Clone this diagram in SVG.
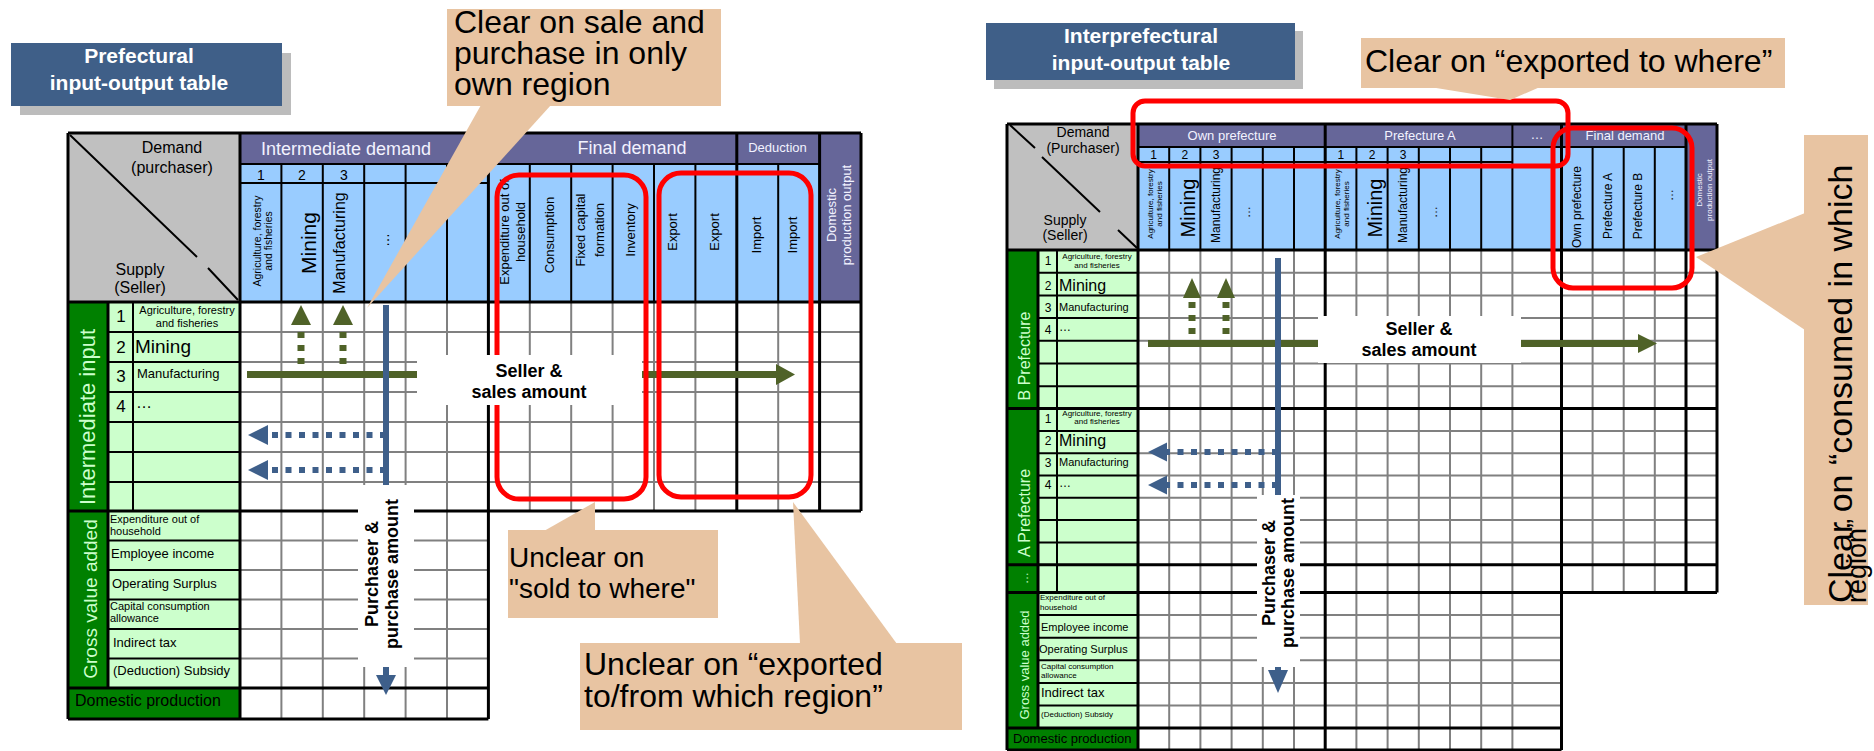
<svg xmlns="http://www.w3.org/2000/svg" width="1874" height="751" viewBox="0 0 1874 751">
<defs>
<style>
text{font-family:"Liberation Sans",Arial,sans-serif;fill:#000}
.gray{fill:#c0c0c0}.pur{fill:#666699}.blu{fill:#99ccff}.dg{fill:#008000}.lg{fill:#ccffcc}.wh{fill:#fff}
.gl{stroke:#808080;stroke-width:2;fill:none}
.k2{stroke:#000;stroke-width:2;fill:none}
.k3{stroke:#000;stroke-width:3;fill:none}
.pt{fill:#f2f2ff}
.bt{fill:#ccffcc}
.m{text-anchor:middle}
.b{font-weight:bold}
.callout{fill:#e8c4a2}
.title{fill:#3f5f88}
.shadow{fill:#bcbcbc}
.red{fill:none;stroke:#ff0000;stroke-width:5}
.garr{stroke:#4f6228;stroke-width:7;fill:none}
.gdash{stroke:#4f6228;stroke-width:7;fill:none;stroke-dasharray:6 7}
.gh{fill:#4f6228}
.barr{stroke:#3e5f8a;stroke-width:6;fill:none}
.bdash{stroke:#3e5f8a;stroke-width:6;fill:none;stroke-dasharray:6 7.5}
.bh{fill:#3e5f8a}
</style>
</defs>
<rect width="1874" height="751" fill="#fff"/>

<!-- ===== Left: Prefectural table ===== -->
<g id="title-prefectural">
<rect class="shadow" x="20" y="53" width="271" height="62"/>
<rect class="title" x="11" y="43" width="271" height="63"/>
<text class="m b" x="139" y="63" font-size="21" style="fill:#fff">Prefectural</text>
<text class="m b" x="139" y="90" font-size="21" style="fill:#fff">input-output table</text>
</g>

<g id="table-prefectural">
<rect class="gray" x="68" y="133" width="172" height="169"/>
<rect class="pur" x="240" y="133" width="621" height="31"/>
<rect class="pur" x="819.6" y="133" width="41.4" height="169"/>
<rect class="blu" x="240" y="164" width="579.6" height="138"/>
<rect class="dg" x="68" y="302" width="40" height="386"/>
<rect class="dg" x="68" y="688" width="172" height="31"/>
<rect class="lg" x="108" y="302" width="132" height="386"/>
<rect class="wh" x="240" y="302" width="621" height="209"/>
<rect class="wh" x="240" y="511" width="248.4" height="208"/>
<path class="gl" d="M281.4 302V719M322.8 302V719M364.2 302V719M405.6 302V719M447 302V719M529.8 302V511M571.2 302V511M612.6 302V511M654 302V511M695.4 302V511M778.2 302V511M240 332H861M240 362H861M240 392H861M240 422H861M240 452H861M240 482H861M240 540.5H488.4M240 570H488.4M240 599.5H488.4M240 629H488.4M240 658.5H488.4"/>
<path class="k2" d="M108 332H240M108 362H240M108 392H240M108 422H240M108 452H240M108 482H240M108 540.5H240M108 570H240M108 599.5H240M108 629H240M108 658.5H240M133 302V511M240 164H819.6M240 183H488.4M281.4 164V302M322.8 164V302M364.2 164V302M405.6 164V302M447 164V302M529.8 164V302M571.2 164V302M612.6 164V302M654 164V302M695.4 164V302M778.2 164V302M70 135L197 257M208 268L238 300"/>
<path class="k3" d="M68 133H861M68 302H861M68 511H861M68 688H488.4M68 719H488.4M68 133V719M240 133V719M488.4 133V719M736.8 133V511M819.6 133V511M861 133V511M108 302V688"/>
<text class="m" x="172" y="153" font-size="16">Demand</text>
<text class="m" x="172" y="173" font-size="16">(purchaser)</text>
<text class="m" x="140" y="275" font-size="16">Supply</text>
<text class="m" x="140" y="293" font-size="16">(Seller)</text>
<text class="m pt" x="346" y="155" font-size="18">Intermediate demand</text>
<text class="m pt" x="632" y="154" font-size="18">Final demand</text>
<text class="m pt" x="777.5" y="152" font-size="13">Deduction</text>
<text class="m" x="261" y="180" font-size="14">1</text>
<text class="m" x="302" y="180" font-size="14">2</text>
<text class="m" x="344" y="180" font-size="14">3</text>
<text class="m" font-size="10.5" transform="translate(261,241) rotate(-90)">Agriculture, forestry</text>
<text class="m" font-size="10.5" transform="translate(272,241) rotate(-90)">and fisheries</text>
<text class="m" font-size="21" transform="translate(316,243) rotate(-90)">Mining</text>
<text class="m" font-size="16" transform="translate(345,243) rotate(-90)">Manufacturing</text>
<text class="m" font-size="14" transform="translate(389,240) rotate(-90)">…</text>
<text class="m" font-size="13" transform="translate(509,232) rotate(-90)">Expenditure out of</text>
<text class="m" font-size="13" transform="translate(525,232) rotate(-90)">household</text>
<text class="m" font-size="13" transform="translate(554,235) rotate(-90)">Consumption</text>
<text class="m" font-size="13" transform="translate(585,230) rotate(-90)">Fixed capital</text>
<text class="m" font-size="13" transform="translate(604,230) rotate(-90)">formation</text>
<text class="m" font-size="13" transform="translate(635,230) rotate(-90)">Inventory</text>
<text class="m" font-size="13" transform="translate(677,232) rotate(-90)">Export</text>
<text class="m" font-size="13" transform="translate(719,232) rotate(-90)">Export</text>
<text class="m" font-size="13" transform="translate(761,235) rotate(-90)">Import</text>
<text class="m" font-size="13" transform="translate(797,235) rotate(-90)">Import</text>
<text class="m pt" font-size="13" transform="translate(836,215) rotate(-90)">Domestic</text>
<text class="m pt" font-size="13" transform="translate(851,215) rotate(-90)">production output</text>
<text class="m bt" font-size="22" transform="translate(95,417) rotate(-90)">Intermediate input</text>
<text class="m bt" font-size="19" transform="translate(97,599) rotate(-90)">Gross value added</text>
<text class="m" x="121" y="322" font-size="17">1</text>
<text class="m" x="121" y="353" font-size="17">2</text>
<text class="m" x="121" y="382" font-size="17">3</text>
<text class="m" x="121" y="412" font-size="17">4</text>
<text class="m" x="187" y="314" font-size="11">Agriculture, forestry</text>
<text class="m" x="187" y="327" font-size="11">and fisheries</text>
<text x="135" y="353" font-size="19">Mining</text>
<text x="137" y="378" font-size="13">Manufacturing</text>
<text x="136" y="408" font-size="16">…</text>
<text x="110" y="523" font-size="11">Expenditure  out of</text>
<text x="110" y="535" font-size="11">household</text>
<text x="111" y="558" font-size="13">Employee income</text>
<text x="112" y="588" font-size="13">Operating Surplus</text>
<text x="110" y="610" font-size="11">Capital consumption</text>
<text x="110" y="622" font-size="11">allowance</text>
<text x="113" y="647" font-size="13">Indirect tax</text>
<text x="113" y="675" font-size="13">(Deduction) Subsidy</text>
<text x="75" y="706" font-size="16">Domestic production</text>
</g>

<g id="connectors-prefectural">
<path class="gdash" d="M301 364V324M343 364V324"/>
<path class="gh" d="M291 325L311 325L301 305ZM333 325L353 325L343 305Z"/>
<path class="garr" d="M247 374.5H417M642 374.5H777"/>
<path class="gh" d="M776 364L776 385L795 374.5Z"/>
<path class="bdash" d="M386 435H268M386 470H268"/>
<path class="bh" d="M268 425L268 445L248 435ZM268 460L268 480L248 470Z"/>
<path class="barr" d="M386 305V487M386 665V677"/>
<path class="bh" d="M376 675L396 675L386 695Z"/>
</g>

<g id="highlight-prefectural">
<rect class="red" x="497" y="175" width="149" height="324" rx="22"/>
<rect class="red" x="659" y="173" width="152" height="324" rx="22"/>
</g>

<g id="label-seller-1">
<rect class="wh" x="417" y="355" width="225" height="50"/>
<text class="m b" x="529" y="377" font-size="18">Seller &amp;</text>
<text class="m b" x="529" y="398" font-size="18">sales amount</text>
</g>
<g id="label-purchaser-1">
<rect class="wh" x="358" y="485" width="56" height="182"/>
<text class="m b" font-size="18" transform="translate(378,574) rotate(-90)">Purchaser &amp;</text>
<text class="m b" font-size="18" transform="translate(398,574) rotate(-90)">purchase amount</text>
</g>

<g id="callout-clear-own">
<path class="callout" d="M481 105L551 105L367 308Z"/>
<rect class="callout" x="447" y="9" width="274" height="97"/>
<text x="454" y="33" font-size="32">Clear on sale and</text>
<text x="454" y="64" font-size="32">purchase in only</text>
<text x="454" y="95" font-size="32">own region</text>
</g>
<g id="callout-unclear-sold">
<path class="callout" d="M544 531L595 531L595 502Z"/>
<rect class="callout" x="508" y="530" width="210" height="88"/>
<text x="509" y="567" font-size="28">Unclear on</text>
<text x="509" y="598" font-size="28">"sold to where"</text>
</g>
<g id="callout-unclear-exported">
<path class="callout" d="M800 644L897 644L793 502Z"/>
<rect class="callout" x="580" y="643" width="382" height="87"/>
<text x="584" y="675" font-size="32">Unclear on “exported</text>
<text x="584" y="707" font-size="32">to/from which region”</text>
</g>

<!-- ===== Right: Interprefectural table ===== -->
<g id="title-interprefectural">
<rect class="shadow" x="994" y="31" width="309" height="58"/>
<rect class="title" x="986" y="23" width="309" height="57"/>
<text class="m b" x="1141" y="43" font-size="21" style="fill:#fff">Interprefectural</text>
<text class="m b" x="1141" y="70" font-size="21" style="fill:#fff">input-output table</text>
</g>

<g id="table-interprefectural">
<rect class="gray" x="1007" y="124" width="131" height="126"/>
<rect class="pur" x="1138" y="124" width="579" height="23"/>
<rect class="pur" x="1686" y="124" width="31" height="126"/>
<rect class="blu" x="1138" y="147" width="548" height="103"/>
<rect class="dg" x="1007" y="250" width="31" height="478"/>
<rect class="dg" x="1007" y="728" width="131" height="22"/>
<rect class="lg" x="1038" y="250" width="100" height="478"/>
<rect class="wh" x="1138" y="250" width="579" height="342.5"/>
<rect class="wh" x="1138" y="592.5" width="423.5" height="157.5"/>
<path class="gl" d="M1169.2 250V750M1200.4 250V750M1231.6 250V750M1262.8 250V750M1294 250V750M1356.4 250V750M1387.6 250V750M1418.8 250V750M1450 250V750M1481.2 250V750M1512.4 250V750M1592.6 250V592.5M1623.7 250V592.5M1654.8 250V592.5M1138 272.7H1717M1138 295.4H1717M1138 318.1H1717M1138 340.8H1717M1138 363.5H1717M1138 386.2H1717M1138 430.9H1717M1138 453.2H1717M1138 475.5H1717M1138 497.8H1717M1138 520.1H1717M1138 542.4H1717M1138 615.1H1561.5M1138 637.7H1561.5M1138 660.3H1561.5M1138 682.9H1561.5M1138 705.5H1561.5"/>
<path class="k2" d="M1038 272.7H1138M1038 295.4H1138M1038 318.1H1138M1038 340.8H1138M1038 363.5H1138M1038 386.2H1138M1038 430.9H1138M1038 453.2H1138M1038 475.5H1138M1038 497.8H1138M1038 520.1H1138M1038 542.4H1138M1038 615.1H1138M1038 637.7H1138M1038 660.3H1138M1038 682.9H1138M1038 705.5H1138M1057 250V592.5M1138 147H1686M1138 162H1512.4M1169.2 147V250M1200.4 147V250M1231.6 147V250M1262.8 147V250M1294 147V250M1356.4 147V250M1387.6 147V250M1418.8 147V250M1450 147V250M1481.2 147V250M1512.4 124V250M1592.6 147V250M1623.7 147V250M1654.8 147V250M1010 125L1035 148M1042 157L1100 212M1118 230L1137 248"/>
<path class="k3" d="M1007 124H1717M1007 250H1717M1007 408.6H1717M1007 564.7H1717M1007 592.5H1717M1007 728.1H1561.5M1007 750H1561.5M1007 124V750M1138 124V750M1325.2 124V750M1561.5 124V750M1686 124V592.5M1717 124V592.5M1038 250V728.1"/>
<text class="m" x="1083" y="137" font-size="14">Demand</text>
<text class="m" x="1083" y="153" font-size="14">(Purchaser)</text>
<text class="m" x="1065" y="225" font-size="14">Supply</text>
<text class="m" x="1065" y="240" font-size="14">(Seller)</text>
<text class="m pt" x="1232" y="140" font-size="13">Own prefecture</text>
<text class="m pt" x="1420" y="140" font-size="13">Prefecture A</text>
<text class="m pt" x="1537" y="139" font-size="13">…</text>
<text class="m pt" x="1625" y="140" font-size="13">Final demand</text>
<text class="m" x="1153.6" y="159" font-size="12">1</text>
<text class="m" x="1184.8" y="159" font-size="12">2</text>
<text class="m" x="1216" y="159" font-size="12">3</text>
<text class="m" x="1340.8" y="159" font-size="12">1</text>
<text class="m" x="1372" y="159" font-size="12">2</text>
<text class="m" x="1403.2" y="159" font-size="12">3</text>
<text class="m" font-size="8" transform="translate(1153,204) rotate(-90)">Agriculture, forestry</text>
<text class="m" font-size="8" transform="translate(1162,204) rotate(-90)">and fisheries</text>
<text class="m" font-size="20" transform="translate(1195,208) rotate(-90)">Mining</text>
<text class="m" font-size="12" transform="translate(1220,205) rotate(-90)">Manufacturing</text>
<text class="m" font-size="12" transform="translate(1250,212) rotate(-90)">…</text>
<text class="m" font-size="8" transform="translate(1340,204) rotate(-90)">Agriculture, forestry</text>
<text class="m" font-size="8" transform="translate(1349,204) rotate(-90)">and fisheries</text>
<text class="m" font-size="20" transform="translate(1382,208) rotate(-90)">Mining</text>
<text class="m" font-size="12" transform="translate(1407,205) rotate(-90)">Manufacturing</text>
<text class="m" font-size="12" transform="translate(1437,212) rotate(-90)">…</text>
<text class="m" font-size="12" transform="translate(1581,207) rotate(-90)">Own prefecture</text>
<text class="m" font-size="12" transform="translate(1612,206) rotate(-90)">Prefecture A</text>
<text class="m" font-size="12" transform="translate(1642,206) rotate(-90)">Prefecture B</text>
<text class="m" font-size="12" transform="translate(1673,195) rotate(-90)">…</text>
<text class="m pt" font-size="8" transform="translate(1702,190) rotate(-90)">Domestic</text>
<text class="m pt" font-size="8" transform="translate(1712,190) rotate(-90)">production output</text>
<text class="m bt" font-size="16" transform="translate(1030,356) rotate(-90)">B Prefecture</text>
<text class="m bt" font-size="16" transform="translate(1030,513) rotate(-90)">A Prefecture</text>
<text class="m bt" font-size="12" transform="translate(1028,578) rotate(-90)">…</text>
<text class="m bt" font-size="13" transform="translate(1029,665) rotate(-90)">Gross value added</text>
<text class="m" x="1048" y="265" font-size="12">1</text>
<text class="m" x="1048" y="290" font-size="12">2</text>
<text class="m" x="1048" y="312" font-size="12">3</text>
<text class="m" x="1048" y="334" font-size="12">4</text>
<text class="m" x="1097" y="259" font-size="8">Agriculture, forestry</text>
<text class="m" x="1097" y="268" font-size="8">and fisheries</text>
<text x="1059" y="291" font-size="16">Mining</text>
<text x="1059" y="311" font-size="11">Manufacturing</text>
<text x="1059" y="331" font-size="12">…</text>
<text class="m" x="1048" y="423" font-size="12">1</text>
<text class="m" x="1048" y="445" font-size="12">2</text>
<text class="m" x="1048" y="467" font-size="12">3</text>
<text class="m" x="1048" y="489" font-size="12">4</text>
<text class="m" x="1097" y="416" font-size="8">Agriculture, forestry</text>
<text class="m" x="1097" y="424" font-size="8">and fisheries</text>
<text x="1059" y="446" font-size="16">Mining</text>
<text x="1059" y="466" font-size="11">Manufacturing</text>
<text x="1059" y="487" font-size="12">…</text>
<text x="1040" y="600" font-size="8">Expenditure  out of</text>
<text x="1040" y="610" font-size="8">household</text>
<text x="1041" y="631" font-size="11">Employee income</text>
<text x="1039" y="653" font-size="11">Operating Surplus</text>
<text x="1041" y="669" font-size="8">Capital consumption</text>
<text x="1041" y="678" font-size="8">allowance</text>
<text x="1041" y="697" font-size="13">Indirect tax</text>
<text x="1041" y="717" font-size="8">(Deduction) Subsidy</text>
<text x="1013" y="743" font-size="13">Domestic production</text>
</g>

<g id="connectors-interprefectural">
<path class="gdash" d="M1192 334V297M1226 334V297"/>
<path class="gh" d="M1183 298L1201 298L1192 278ZM1217 298L1235 298L1226 278Z"/>
<path class="garr" d="M1148 343.5H1318M1521 343.5H1639"/>
<path class="gh" d="M1638 334L1638 353L1657 343.5Z"/>
<path class="bdash" d="M1278 452H1167M1278 485H1167"/>
<path class="bh" d="M1167 442.5L1167 461.5L1148 452ZM1167 475.5L1167 494.5L1148 485Z"/>
<path class="barr" d="M1278 258V495M1278 665V672"/>
<path class="bh" d="M1268 670L1288 670L1278 693Z"/>
</g>

<g id="highlight-interprefectural">
<rect class="red" x="1133" y="101" width="435" height="65" rx="12"/>
<rect class="red" x="1553" y="128" width="139" height="160" rx="20"/>
</g>

<g id="label-seller-2">
<rect class="wh" x="1318" y="316" width="203" height="47"/>
<text class="m b" x="1419" y="335" font-size="18">Seller &amp;</text>
<text class="m b" x="1419" y="356" font-size="18">sales amount</text>
</g>
<g id="label-purchaser-2">
<rect class="wh" x="1257" y="495" width="43" height="172"/>
<text class="m b" font-size="18" transform="translate(1275,573) rotate(-90)">Purchaser &amp;</text>
<text class="m b" font-size="18" transform="translate(1294,573) rotate(-90)">purchase amount</text>
</g>

<g id="callout-clear-exported">
<path class="callout" d="M1430 87L1540 87L1510 100Z"/>
<rect class="callout" x="1361" y="38" width="424" height="50"/>
<text x="1365" y="72" font-size="32">Clear on “exported to where”</text>
</g>
<g id="callout-clear-consumed">
<path class="callout" d="M1805 213L1805 330L1696 257Z"/>
<rect class="callout" x="1804" y="135" width="64" height="470"/>
<text font-size="34" transform="translate(1852,603) rotate(-90)">Clear on “consumed in which</text>
<text font-size="27" transform="translate(1866,603) rotate(-90)">region”</text>
</g>
</svg>
